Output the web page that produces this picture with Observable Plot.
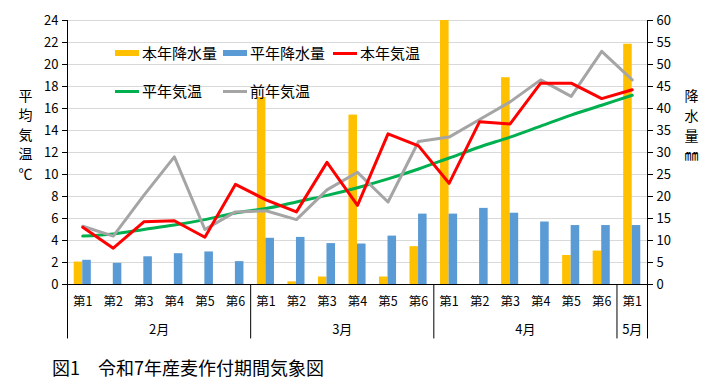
<!DOCTYPE html>
<html><head><meta charset="utf-8">
<script src="https://cdn.jsdelivr.net/npm/d3@7"></script>
<script src="https://cdn.jsdelivr.net/npm/@observablehq/plot@0.6"></script>
<style>
body{margin:0;background:#fff;font-family:"Noto Sans CJK JP","Noto Sans",sans-serif;}
#wrap{position:relative;width:711px;height:390px;}
#chart svg{display:block;}
.leg{position:absolute;font-size:15px;line-height:18px;color:#000;display:flex;align-items:center;white-space:nowrap;}
.sw{display:inline-block;width:24px;margin-right:3px;}
#cap{position:absolute;left:52px;top:355px;font-size:18px;line-height:24px;color:#000;}
</style></head><body>
<div id="wrap"><div id="chart"></div><div id="cap"></div></div>
<script>
// ---- data ----
const weeks = ["第1","第2","第3","第4","第5","第6","第1","第2","第3","第4","第5","第6","第1","第2","第3","第4","第5","第6","第1"];
const months = ["2月","3月","4月","5月"];
const monthCounts = [6,6,6,1];
const precipThis = [5.1,0,0,0,0,0, 42.5,0.6,1.7,38.5,1.7,8.6, 60,0,47.0,0,6.6,7.6, 54.6];
const precipNormal = [5.5,4.8,6.3,7.0,7.4,5.2, 10.5,10.7,9.3,9.2,11.0,16.0, 16.0,17.3,16.2,14.2,13.4,13.4, 13.4];
const tempThis = [5.2,3.3,5.7,5.8,4.3,9.1, 7.7,6.6,11.1,7.2,13.7,12.6, 9.2,14.8,14.6,18.3,18.3,16.9, 17.7];
const tempNormal = [4.4,4.6,5.0,5.4,5.9,6.5, 6.9,7.5,8.1,8.8,9.6,10.5, 11.5,12.5,13.4,14.4,15.4,16.3, 17.2];
const tempLast = [5.3,4.4,8.1,11.6,5.0,6.6, 6.7,5.9,8.6,10.2,7.5,13.0, 13.4,15.0,16.6,18.6,17.1,21.2, 18.6];
const tempTicks = d3.range(0, 25, 2);
const seriesNames = ["本年降水量","平年降水量","本年気温","平年気温","前年気温"];
const caption = "図1　令和7年産麦作付期間気象図";

// ---- derived table ----
const n = weeks.length;
const toT = p => p * 24 / 60;
const rows = weeks.map((w, i) => ({i, w, pThis: precipThis[i], pNorm: precipNormal[i], tThis: tempThis[i], tNorm: tempNormal[i], tLast: tempLast[i]}));
const bounds = [0];
monthCounts.forEach(c => bounds.push(bounds[bounds.length - 1] + c));
const monthRows = months.map((m, k) => ({m, x: (bounds[k] + bounds[k + 1]) / 2}));

const colors = {"本年降水量":"#FFC000","平年降水量":"#5B9BD5","本年気温":"#FF0000","平年気温":"#00B050","前年気温":"#A5A5A5"};
const font = '"Noto Sans CJK JP","Noto Sans",sans-serif';
const cx = d => d.i + 0.5;

const chart = Plot.plot({
  width: 711, height: 345,
  marginLeft: 67, marginRight: 64, marginTop: 20, marginBottom: 61,
  x: {domain: [0, n], axis: null},
  y: {domain: [0, 24], axis: null, label: null},
  style: {fontFamily: font, fontSize: "13px", color: "#000", background: "#fff"},
  marks: [
    Plot.gridY(tempTicks, {stroke: "#d9d9d9", strokeOpacity: 1}),
    Plot.rectY(rows, {x1: d => d.i + 0.22, x2: d => d.i + 0.5, y: d => toT(d.pThis), fill: colors["本年降水量"]}),
    Plot.rectY(rows, {x1: d => d.i + 0.5, x2: d => d.i + 0.78, y: d => toT(d.pNorm), fill: colors["平年降水量"]}),
    Plot.lineY(rows, {x: cx, y: "tNorm", stroke: colors["平年気温"], strokeWidth: 3, curve: "catmull-rom"}),
    Plot.lineY(rows, {x: cx, y: "tLast", stroke: colors["前年気温"], strokeWidth: 3}),
    Plot.lineY(rows, {x: cx, y: "tThis", stroke: colors["本年気温"], strokeWidth: 3}),
    Plot.ruleY([0], {stroke: "#000"}),
    Plot.ruleX(bounds, {y1: 0, y2: -4.95, stroke: "#000"}),
    Plot.ruleX([0, n], {y1: 0, y2: 24, stroke: "#000"}),
    Plot.axisY(tempTicks, {anchor: "left", tickSize: 5, tickPadding: 4, fontSize: 13, label: null}),
    Plot.axisY(tempTicks, {anchor: "right", tickSize: 5, tickPadding: 4, fontSize: 13, label: null, tickFormat: d => d * 2.5}),
    Plot.text(rows, {x: cx, y: -1.6, text: "w", fontSize: 12.5}),
    Plot.text(monthRows, {x: "x", y: -4.1, text: "m", fontSize: 13}),
    Plot.text(["平\n均\n気\n温\n℃"], {frameAnchor: "left", dx: -49, dy: -19, lineHeight: 1.4, fontSize: 14}),
    Plot.text(["降\n水\n量\n㎜"], {frameAnchor: "right", dx: 51, dy: -28, lineHeight: 1.4, fontSize: 14})
  ]
});
document.getElementById("chart").append(chart);

// ---- legend (HTML overlay) ----
const legendLayout = [
  {name: "本年降水量", left: 115, top: 53, kind: "box"},
  {name: "平年降水量", left: 223, top: 53, kind: "box"},
  {name: "本年気温", left: 333, top: 53, kind: "line"},
  {name: "平年気温", left: 115, top: 91, kind: "line"},
  {name: "前年気温", left: 223, top: 91, kind: "line"}
];
const wrap = document.getElementById("wrap");
legendLayout.forEach(l => {
  const d = document.createElement("div");
  d.className = "leg";
  d.style.left = l.left + "px";
  d.style.top = (l.top - 9) + "px";
  const s = document.createElement("span");
  s.className = "sw";
  s.style.height = l.kind === "box" ? "6px" : "3px";
  s.style.background = colors[l.name];
  d.append(s, document.createTextNode(l.name));
  wrap.append(d);
});
document.getElementById("cap").textContent = caption;
</script>
</body></html>
